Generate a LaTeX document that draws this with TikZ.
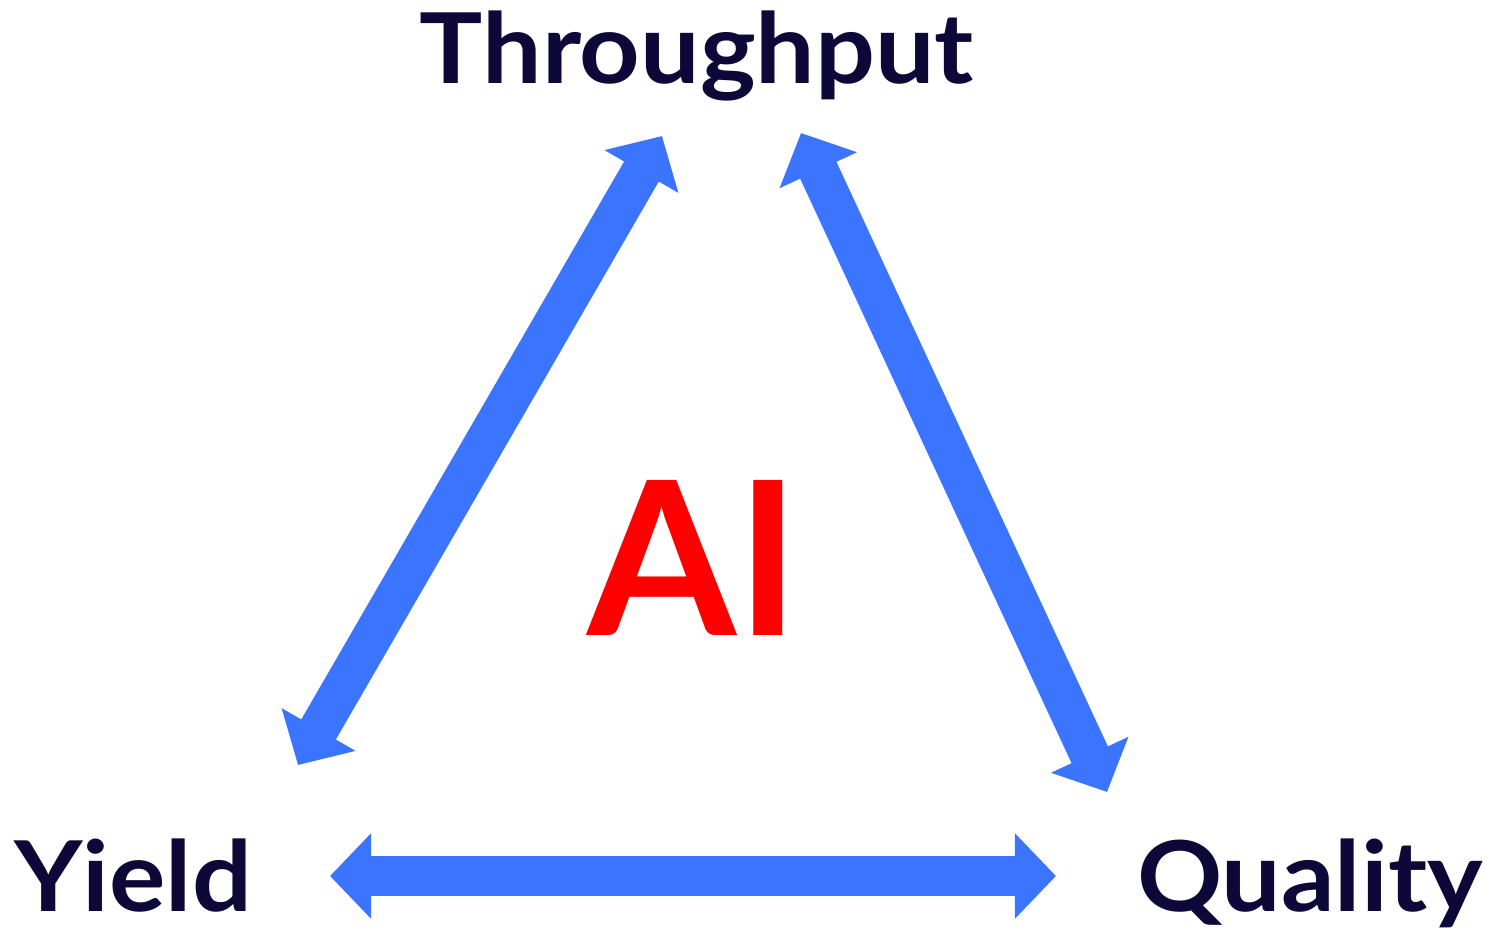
\documentclass[tikz,border=0pt]{standalone}
\usepackage{fontspec}
\setmainfont{Lato}
\usetikzlibrary{arrows.meta}
\definecolor{navy}{HTML}{0E0838}
\definecolor{arrowblue}{HTML}{3B75FF}
\definecolor{aired}{HTML}{FF0000}
\tikzset{
  label text/.style={font=\fontsize{27.8}{30}\selectfont\bfseries, text=navy, anchor=base, inner sep=0pt, xscale=1.08},
  dbl arrow/.style={draw=arrowblue, line width=11.38pt,
    {Triangle[length=11.67pt,width=23.6pt]}-{Triangle[length=11.67pt,width=23.6pt]}},
}
\begin{document}
\begin{tikzpicture}[x=0.01cm,y=-0.01cm]
\useasboundingbox (0,0) rectangle (1493,930);
\node[label text] (thr) at (697,83) {Throughput};
\node[label text] (yld) at (133,911) {Yield};
\node[label text] (qua) at (1310,911) {Quality};
\node[font=\fontsize{61}{64}\selectfont\bfseries, text=aired, anchor=base, inner sep=0pt] (ai) at (694,635) {AI};
% arrow tips
\coordinate (lt) at (662,136);
\coordinate (lb) at (298,765);
\coordinate (rt) at (801,133);
\coordinate (rb) at (1107,792);
\coordinate (bl) at (330,876);
\coordinate (br) at (1056,876);
\draw[dbl arrow] (lt) -- (lb);
\draw[dbl arrow] (rt) -- (rb);
\draw[dbl arrow] (bl) -- (br);
\end{tikzpicture}
\end{document}
